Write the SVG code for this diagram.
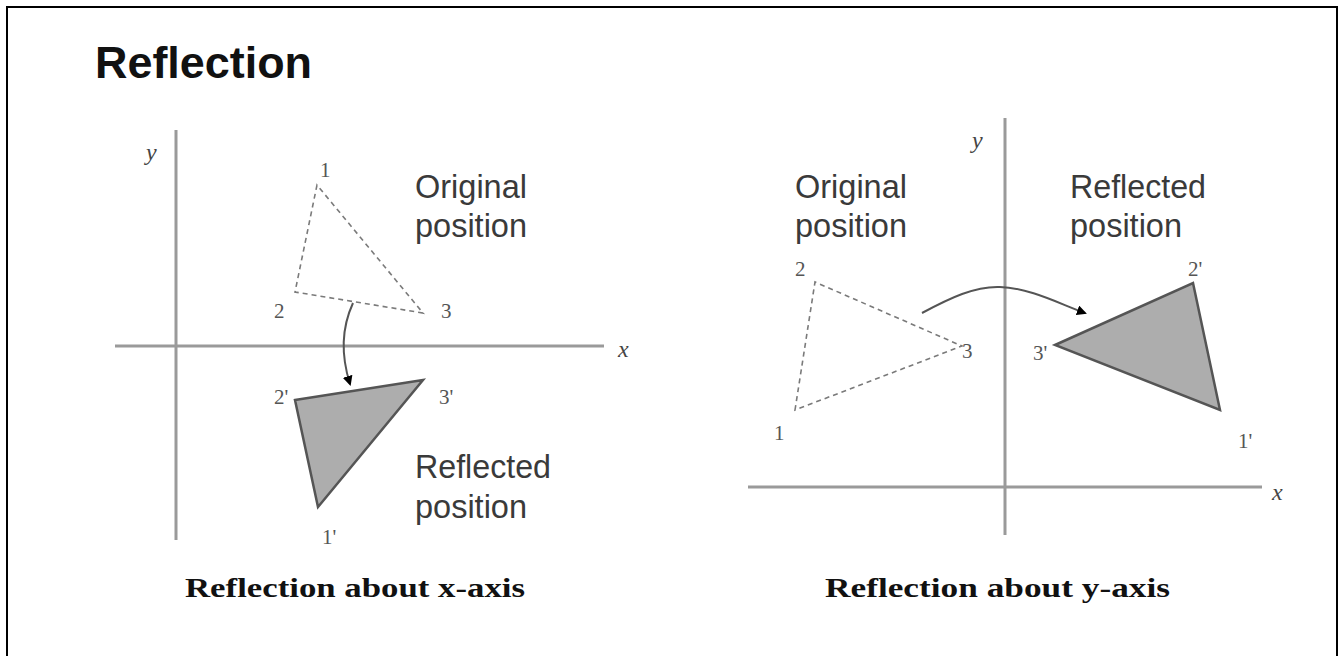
<svg xmlns="http://www.w3.org/2000/svg" width="1339" height="656" viewBox="0 0 1339 656">
<style>
.axis{stroke:#9a9a9a;stroke-width:3;fill:none}
.orig{fill:none;stroke:#7a7a7a;stroke-width:1.6;stroke-dasharray:5 4}
.refl{fill:#adadad;stroke:#555;stroke-width:2.5;stroke-linejoin:miter}
.lbl{font-family:"Liberation Sans",Arial,sans-serif;font-size:34px;fill:#3a3a3a}
.num{font-family:"Liberation Serif","Times New Roman",serif;font-size:21px;fill:#555}
.ax{font-family:"Liberation Serif","Times New Roman",serif;font-style:italic;font-size:24px;fill:#444}
.cap{font-family:"Liberation Serif","Times New Roman",serif;font-weight:bold;font-size:28px;fill:#111}
.conn{fill:none;stroke:#555;stroke-width:2}
</style>
<defs>
<marker id="ah" viewBox="0 0 10 10" refX="8" refY="5" markerWidth="5" markerHeight="5" orient="auto">
<path d="M0,0 L10,5 L0,10 z" fill="#000"/>
</marker>
</defs>
<rect x="0" y="0" width="1339" height="656" fill="#fff"/>
<rect x="7" y="7" width="1330" height="700" fill="none" stroke="#000" stroke-width="2"/>
<g id="title">
<text x="95" y="78" font-family="'Liberation Sans',Arial,sans-serif" font-weight="bold" font-size="44" fill="#111" textLength="217" lengthAdjust="spacingAndGlyphs">Reflection</text>
</g>
<g id="left-axes">
<line class="axis" x1="176" y1="130" x2="176" y2="540"/>
<line class="axis" x1="115" y1="346" x2="604" y2="346"/>
<text class="ax" x="146" y="160">y</text>
<text class="ax" x="618" y="357">x</text>
</g>
<g id="left-original">
<polygon class="orig" points="317,185 295,292 423,313"/>
<text class="num" x="320" y="177">1</text>
<text class="num" x="274" y="318">2</text>
<text class="num" x="441" y="318">3</text>
<text class="lbl" x="415" y="198" textLength="112" lengthAdjust="spacingAndGlyphs">Original</text>
<text class="lbl" x="415" y="237" textLength="112" lengthAdjust="spacingAndGlyphs">position</text>
</g>
<g id="left-reflected">
<polygon class="refl" points="295,400 423,380 318,507"/>
<text class="num" x="274" y="404">2'</text>
<text class="num" x="439" y="404">3'</text>
<text class="num" x="322" y="544">1'</text>
<text class="lbl" x="415" y="478" textLength="136" lengthAdjust="spacingAndGlyphs">Reflected</text>
<text class="lbl" x="415" y="518" textLength="112" lengthAdjust="spacingAndGlyphs">position</text>
</g>
<g id="left-caption">
<text class="cap" x="185" y="597" textLength="340" lengthAdjust="spacingAndGlyphs">Reflection about x-axis</text>
</g>
<g id="right-axes">
<line class="axis" x1="1005" y1="118" x2="1005" y2="535"/>
<line class="axis" x1="748" y1="487" x2="1262" y2="487"/>
<text class="ax" x="972" y="148">y</text>
<text class="ax" x="1272" y="500">x</text>
</g>
<g id="right-original">
<polygon class="orig" points="795,410 815,282 962,346"/>
<text class="num" x="795" y="276">2</text>
<text class="num" x="962" y="358">3</text>
<text class="num" x="774" y="440">1</text>
<text class="lbl" x="795" y="198" textLength="112" lengthAdjust="spacingAndGlyphs">Original</text>
<text class="lbl" x="795" y="237" textLength="112" lengthAdjust="spacingAndGlyphs">position</text>
</g>
<g id="right-reflected">
<polygon class="refl" points="1055,345 1193,283 1220,410"/>
<text class="num" x="1033" y="360">3'</text>
<text class="num" x="1188" y="276">2'</text>
<text class="num" x="1238" y="448">1'</text>
<text class="lbl" x="1070" y="198" textLength="136" lengthAdjust="spacingAndGlyphs">Reflected</text>
<text class="lbl" x="1070" y="237" textLength="112" lengthAdjust="spacingAndGlyphs">position</text>
</g>
<g id="right-caption">
<text class="cap" x="825" y="597" textLength="345" lengthAdjust="spacingAndGlyphs">Reflection about y-axis</text>
</g>
<g id="connectors">
<path class="conn" d="M353,303 Q336,340 350,384" marker-end="url(#ah)"/>
<path class="conn" d="M922,313 C950,298 975,286 1000,287 C1030,288 1060,304 1085,313" marker-end="url(#ah)"/>
</g>
</svg>
